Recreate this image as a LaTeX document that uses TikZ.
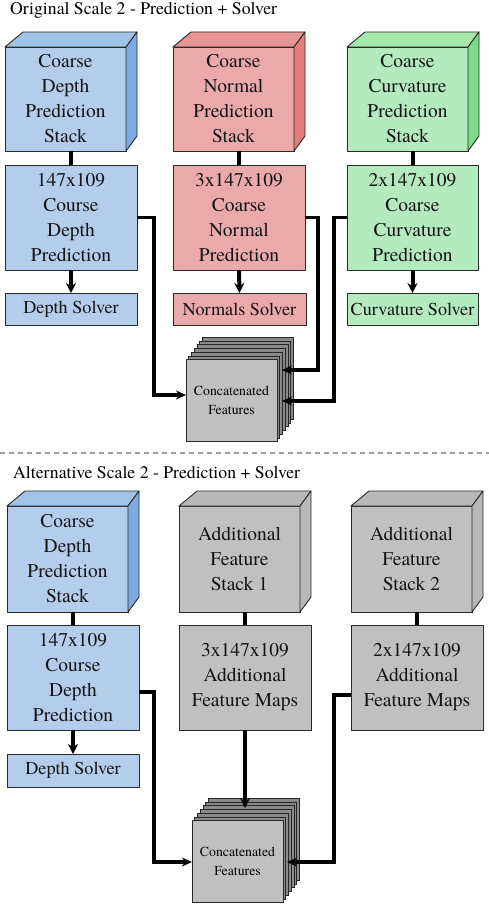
\documentclass[tikz,border=0pt]{standalone}
\usepackage{fontspec}
\setmainfont{TeX Gyre Termes}
\usetikzlibrary{arrows.meta}
\definecolor{bfront}{HTML}{B4CDEB}
\definecolor{btop}{HTML}{A0C3E8}
\definecolor{bside}{HTML}{7DAAE1}
\definecolor{rfront}{HTML}{EBAAAA}
\definecolor{rtop}{HTML}{E69494}
\definecolor{rside}{HTML}{E17D7D}
\definecolor{gfront}{HTML}{B4EBBE}
\definecolor{gtop}{HTML}{A5E8AA}
\definecolor{gside}{HTML}{7DDC87}
\definecolor{kfront}{HTML}{C0C0C0}
\definecolor{ktop}{HTML}{B8B8B8}
\definecolor{ksheet}{HTML}{8A8A8A}
\definecolor{edge}{HTML}{2A2A2A}
\tikzset{
  face/.style={draw=edge, line width=0.9pt, line join=round},
  frontface/.style={face, inner sep=0pt, outer sep=0pt, align=center,
    font=\fontsize{19.5}{25}\selectfont, text=black!92},
  solverbox/.style={face, inner sep=0pt, outer sep=0pt, align=center,
    minimum height=32, font=\fontsize{18.2}{22}\selectfont, text=black!92},
  sheet/.style={draw=black!85, line width=0.6pt, fill=ksheet},
  concatfront/.style={draw=edge, line width=0.8pt, fill=kfront, inner sep=0pt,
    outer sep=0pt, minimum width=91, minimum height=82, align=center,
    font=\fontsize{13.8}{19}\selectfont},
  link/.style={line width=4pt},
  conn/.style={line width=3.3pt, -{Stealth[length=10pt,width=9pt]}},
  solverarrow/.style={line width=4pt, -{Stealth[length=10pt,width=10pt]}},
  titletext/.style={anchor=base west, inner sep=0pt, font=\fontsize{17.7}{21}\selectfont},
}
% cube sides: #1 node name, #2 top colour, #3 side colour
\newcommand{\cubesides}[3]{%
  \draw[face, fill=#2] (#1.north west) -- ++(18,-15) -- ([shift={(11,-15)}]#1.north east) -- (#1.north east) -- cycle;
  \draw[face, fill=#3] (#1.north east) -- ([shift={(11,-15)}]#1.north east) -- ([shift={(11,-15)}]#1.south east) -- (#1.south east) -- cycle;
}
% stacked sheets behind a concatenated node centre #1
\newcommand{\sheets}[1]{%
  \foreach \k in {6,5,...,1}{
    \draw[sheet] ([shift={(2.7*\k-45.5,-3.7*\k-41)}]#1) rectangle ([shift={(2.7*\k+45.5,-3.7*\k+41)}]#1);
  }
}
\begin{document}
\begin{tikzpicture}[x=1pt,y=-1pt]
\useasboundingbox (0,0) rectangle (489,904);
\fill[white] (0,0) rectangle (489,904);

% ---------------- Top section ----------------
\node[titletext] (t1) at (10,15) {Original Scale 2 - Prediction + Solver};

\node[frontface, fill=bfront, minimum width=121, minimum height=104] (bs) at (65.5,99) {Coarse\\Depth\\Prediction\\Stack};
\cubesides{bs}{btop}{bside}
\node[frontface, fill=rfront, minimum width=121, minimum height=104] (rs) at (233.5,99) {Coarse\\Normal\\Prediction\\Stack};
\cubesides{rs}{rtop}{rside}
\node[frontface, fill=gfront, minimum width=121, minimum height=104] (gs) at (407.5,99) {Coarse\\Curvature\\Prediction\\Stack};
\cubesides{gs}{gtop}{gside}

\node[frontface, fill=bfront, minimum width=132, minimum height=105] (bb) at (71,217.5) {147x109\\Course\\Depth\\Prediction};
\node[frontface, fill=rfront, minimum width=132, minimum height=105] (rb) at (239,217.5) {3x147x109\\Coarse\\Normal\\Prediction};
\node[frontface, fill=gfront, minimum width=131, minimum height=105] (gb) at (412.5,217.5) {2x147x109\\Coarse\\Curvature\\Prediction};

\node[solverbox, fill=bfront, minimum width=132] (bsol) at (71,309) {Depth Solver};
\node[solverbox, fill=rfront, minimum width=133] (rsol) at (239.5,309) {Normals Solver};
\node[solverbox, fill=gfront, minimum width=131] (gsol) at (412.5,309) {Curvature Solver};

\draw[link] (bs.south -| bb.north) -- (bb.north);
\draw[link] (rs.south -| rb.north) -- (rb.north);
\draw[link] (gs.south -| gb.north) -- (gb.north);
\draw[solverarrow] (bb.south) -- (bsol.north);
\draw[solverarrow] (rb.south) -- (rsol.north);
\draw[solverarrow] (gb.south) -- (gsol.north);

\coordinate (c1) at (231.5,400.5);
\sheets{c1}
\node[concatfront] (cf1) at (c1) {Concatenated\\Features};

\coordinate (j1) at (154,395);
\coordinate (j2) at (318,370);
\coordinate (e2) at (282,370);
\coordinate (j3) at (334,401);
\coordinate (e3) at (282,401);
\draw[conn] (bb.east) -| (j1) -- (j1 -| cf1.west);
\draw[conn] (rb.east) -| (j2) -- (e2);
\draw[conn] (gb.west) -| (j3) -- (e3);

% separator
\draw[gray!75, line width=1.3pt, dash pattern=on 5pt off 4pt] (0,453) -- (489,453);

% ---------------- Bottom section ----------------
\node[titletext] (t2) at (13,478) {Alternative Scale 2 - Prediction + Solver};

\node[frontface, fill=bfront, minimum width=121, minimum height=106] (bs2) at (67.5,559) {Coarse\\Depth\\Prediction\\Stack};
\cubesides{bs2}{btop}{bside}
\node[frontface, fill=kfront, minimum width=121, minimum height=106] (ks1) at (239.5,559) {Additional\\Feature\\Stack 1};
\cubesides{ks1}{ktop}{ktop}
\node[frontface, fill=kfront, minimum width=121, minimum height=106] (ks2) at (411.5,559) {Additional\\Feature\\Stack 2};
\cubesides{ks2}{ktop}{ktop}

\node[frontface, fill=bfront, minimum width=132, minimum height=105] (bb2) at (73,677.5) {147x109\\Course\\Depth\\Prediction};
\node[frontface, fill=kfront, minimum width=132, minimum height=105] (kb1) at (245,677.5) {3x147x109\\Additional\\Feature Maps};
\node[frontface, fill=kfront, minimum width=132, minimum height=105] (kb2) at (417,677.5) {2x147x109\\Additional\\Feature Maps};

\node[solverbox, fill=bfront, minimum width=132, minimum height=33] (bsol2) at (73,770.5) {Depth Solver};

\draw[link] (bs2.south -| bb2.north) -- (bb2.north);
\draw[link] (ks1.south -| kb1.north) -- (kb1.north);
\draw[link] (ks2.south -| kb2.north) -- (kb2.north);
\draw[solverarrow] (bb2.south) -- (bsol2.north);

\coordinate (c2) at (237.5,861.5);
\sheets{c2}
\node[concatfront] (cf2) at (c2) {Concatenated\\Features};

\coordinate (k1) at (245,808);
\coordinate (bj1) at (154,862);
\coordinate (bs2a) at (139,692);
\coordinate (kb2a) at (351,695);
\coordinate (bj2) at (334,862);
\coordinate (be2) at (287,862);
\draw[conn] (bs2a) -| (bj1) -- (bj1 -| cf2.west);
\draw[line width=4pt, -{Stealth[length=10pt,width=10pt]}] (kb1.south) -- (k1);
\draw[conn] (kb2a) -| (bj2) -- (be2);
\end{tikzpicture}
\end{document}
